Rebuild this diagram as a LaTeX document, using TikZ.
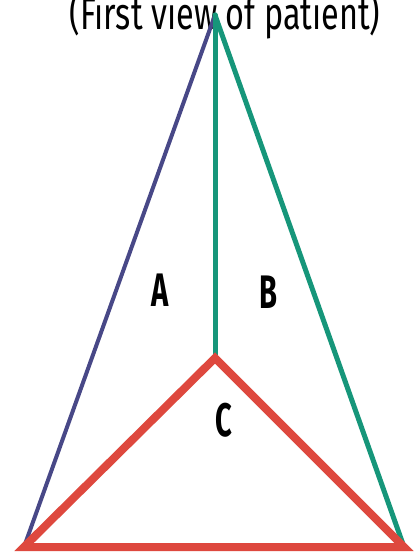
\documentclass[tikz,border=0pt]{standalone}
\usepackage{fontspec}
\setmainfont[FakeStretch=0.72]{Fira Sans}
\newfontfamily\lblfont[FakeStretch=0.62]{Fira Sans}
\usepackage{xcolor}
\usetikzlibrary{positioning}

\definecolor{viewblue}{RGB}{72,72,135}
\definecolor{viewteal}{RGB}{22,150,122}
\definecolor{viewred}{RGB}{222,72,62}

\begin{document}
\begin{tikzpicture}[
    x=1pt, y=-1pt,
    side/.style={line width=4pt, line cap=round},
    blueside/.style={side, draw=viewblue},
    tealside/.style={side, draw=viewteal, line width=5pt},
    redside/.style={side, draw=viewred, line width=8pt, line join=miter},
    lbl/.style={font=\lblfont\fontsize{47}{47}\selectfont\bfseries, inner sep=0pt},
    ttl/.style={font=\fontsize{45}{45}\selectfont, inner sep=0pt, anchor=base}
]
\useasboundingbox (0,0) rectangle (414,558);

\coordinate (apex) at (215,15);
\coordinate (mid) at (215,358);
\coordinate (bl) at (24,547);
\coordinate (br) at (404,547);

\node[ttl] (title) at (225,29) {(First view of patient)};

\draw[blueside] (apex) -- (bl);
\draw[tealside] (apex) -- (mid);
\draw[tealside] (apex) -- (br);
\draw[redside] (bl) -- (mid) -- (br) -- cycle;

\node[lbl] (a) at (160,290) {A};
\node[lbl] (b) at (268,292) {B};
\node[lbl] (c) at (224,420) {C};

\end{tikzpicture}
\end{document}
